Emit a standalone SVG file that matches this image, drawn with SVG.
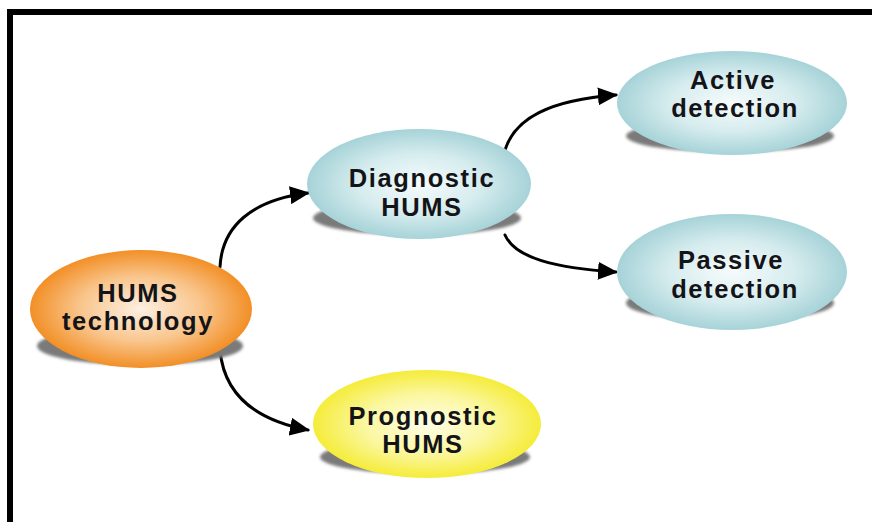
<svg xmlns="http://www.w3.org/2000/svg" width="872" height="522" viewBox="0 0 872 522">
  <style>
    .label { font-family: "Liberation Sans", Arial, sans-serif; font-weight: bold; font-size: 25.5px; fill: #141418; text-anchor: middle; letter-spacing: 1.6px; }
    .shadow { fill: #7a7a7a; filter: url(#soft); }
    .link { fill: none; stroke: #000; stroke-width: 3; stroke-linecap: round; }
  </style>
  <defs>
    <radialGradient id="gOrange" cx="50%" cy="50%" r="50%">
      <stop offset="0" stop-color="#fdf0e2"/>
      <stop offset="0.55" stop-color="#f9c58c"/>
      <stop offset="1" stop-color="#f28f26"/>
    </radialGradient>
    <radialGradient id="gBlue" cx="50%" cy="50%" r="50%">
      <stop offset="0" stop-color="#f6fbfc"/>
      <stop offset="0.55" stop-color="#d6ecee"/>
      <stop offset="1" stop-color="#a6d3d8"/>
    </radialGradient>
    <radialGradient id="gYellow" cx="50%" cy="50%" r="50%">
      <stop offset="0" stop-color="#fffde8"/>
      <stop offset="0.55" stop-color="#fbf7a0"/>
      <stop offset="1" stop-color="#f5ec3a"/>
    </radialGradient>
    <filter id="soft" x="-10%" y="-30%" width="120%" height="160%">
      <feGaussianBlur stdDeviation="1.5"/>
    </filter>
    <marker id="arrow" viewBox="0 0 20 18" refX="18" refY="9" markerWidth="20" markerHeight="18" markerUnits="userSpaceOnUse" orient="auto">
      <path d="M0,0 L20,9 L0,18 Z" fill="#000"/>
    </marker>
  </defs>

  <!-- frame -->
  <rect x="0" y="0" width="872" height="522" fill="#fff"/>
  <path d="M10,525 L10,12 L875,12" fill="none" stroke="#000" stroke-width="6"/>

  <!-- connectors -->
  <g id="connectors">
    <path class="link" d="M220,267 C222,226 252,200 308,193" marker-end="url(#arrow)"/>
    <path class="link" d="M220,350 C224,395 255,420 308,430" marker-end="url(#arrow)"/>
    <path class="link" d="M505,150 C515,118 550,100 616,95" marker-end="url(#arrow)"/>
    <path class="link" d="M505,235 C515,258 555,268 616,272" marker-end="url(#arrow)"/>
  </g>

  <g id="hums-technology">
    <ellipse class="shadow" cx="140" cy="346" rx="103" ry="19"/>
    <ellipse cx="141" cy="309" rx="111" ry="59" fill="url(#gOrange)"/>
    <text class="label" x="138" y="302">HUMS</text>
    <text class="label" x="138" y="330">technology</text>
  </g>

  <g id="diagnostic-hums">
    <ellipse class="shadow" cx="417" cy="218" rx="104" ry="17"/>
    <ellipse cx="419" cy="184" rx="112" ry="55" fill="url(#gBlue)"/>
    <text class="label" x="422" y="187">Diagnostic</text>
    <text class="label" x="422" y="216">HUMS</text>
  </g>

  <g id="active-detection">
    <ellipse class="shadow" cx="730" cy="136" rx="104" ry="16"/>
    <ellipse cx="732" cy="103" rx="115" ry="52" fill="url(#gBlue)"/>
    <text class="label" x="733" y="89">Active</text>
    <text class="label" x="735" y="117">detection</text>
  </g>

  <g id="passive-detection">
    <ellipse class="shadow" cx="730" cy="303" rx="104" ry="18"/>
    <ellipse cx="732" cy="272" rx="115" ry="58" fill="url(#gBlue)"/>
    <text class="label" x="731" y="269">Passive</text>
    <text class="label" x="735" y="298">detection</text>
  </g>

  <g id="prognostic-hums">
    <ellipse class="shadow" cx="425" cy="457" rx="105" ry="17"/>
    <ellipse cx="427" cy="424" rx="114" ry="54" fill="url(#gYellow)"/>
    <text class="label" x="423" y="425">Prognostic</text>
    <text class="label" x="423" y="453">HUMS</text>
  </g>
</svg>
